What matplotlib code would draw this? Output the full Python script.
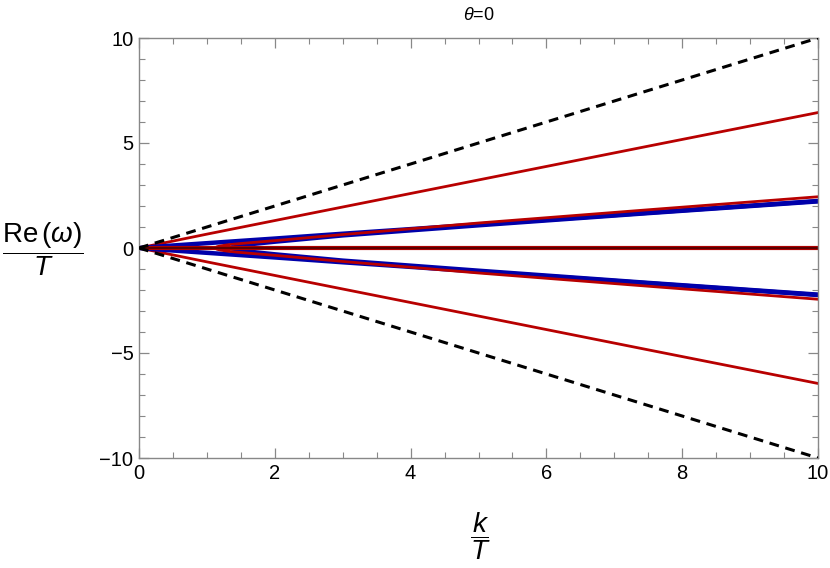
import numpy as np
import matplotlib
matplotlib.use("Agg")
import matplotlib.pyplot as plt
from matplotlib.ticker import MultipleLocator

plt.rcParams["font.family"] = ["Liberation Sans", "DejaVu Sans"]
plt.rcParams["mathtext.fontset"] = "custom"
plt.rcParams["mathtext.rm"] = "Liberation Sans"
plt.rcParams["mathtext.it"] = "Liberation Sans:italic"

#####################
### Data
#####################
k_light = [0.0, 10.0]
w_light = [0.0, 10.0]

k_outer = [0.0, 1.0, 2.5, 5.0, 7.5, 10.0]
w_outer = [0.0, 0.66, 1.63, 3.24, 4.85, 6.45]

k_inner_red = [1.12, 1.15, 1.2, 1.3, 1.45, 1.7, 2.0, 3.0, 5.0, 7.5, 10.0]
w_inner_red = [0.0, 0.06, 0.10, 0.15, 0.20, 0.27, 0.35, 0.64, 1.19, 1.82, 2.44]

k_blue = [0.0, 0.5, 1.0, 2.0, 3.0, 5.0, 7.5, 10.0]
w_blue = [0.0, 0.12, 0.23, 0.45, 0.68, 1.12, 1.68, 2.24]

k_blue_cusp = [1.38, 1.41, 1.46, 1.55, 1.7, 2.0, 3.0, 5.0, 7.5, 10.0]
w_blue_cusp = [0.0, 0.05, 0.09, 0.14, 0.20, 0.30, 0.60, 1.08, 1.66, 2.22]

k_zero = [0.0, 10.0]
w_zero = [0.0, 0.0]

red = "#b80000"
blue = "#0000aa"
frame = "#888888"

#####################
### Plot
#####################
fig = plt.figure(figsize=(8.3, 5.68), dpi=100)
ax = fig.add_axes([139/830, 1-458/568, (818-139)/830, (458-38)/568])

ax.plot(k_light, w_light, color="black", lw=2.2, ls=(0, (3.2, 2.2)), zorder=3)
ax.plot(k_light, -np.array(w_light), color="black", lw=2.2, ls=(0, (3.2, 2.2)), zorder=3)

for s in (1, -1):
    ax.plot(k_outer, s*np.array(w_outer), color=red, lw=2.0)
    ax.plot(k_blue, s*np.array(w_blue), color=blue, lw=3.2)
    ax.plot(k_blue_cusp, s*np.array(w_blue_cusp), color=blue, lw=3.2)
    ax.plot(k_inner_red, s*np.array(w_inner_red), color=red, lw=2.0)
ax.plot(k_zero, w_zero, color=red, lw=3.0)
ax.plot(k_zero, w_zero, color="#5a0000", lw=1.6)

ax.set_xlim(0, 10)
ax.set_ylim(-10, 10)
ax.xaxis.set_major_locator(MultipleLocator(2))
ax.xaxis.set_minor_locator(MultipleLocator(0.5))
ax.yaxis.set_minor_locator(MultipleLocator(1))
ax.set_yticks([-10, -5, 0, 5, 10])
ax.set_yticklabels(["\u221210", "\u22125", "0", "5", "10"])
ax.tick_params(which="both", direction="in", top=True, right=True, color=frame,
               labelsize=14.5, labelcolor="black", pad=4)
ax.tick_params(which="major", length=7, width=0.9)
ax.tick_params(which="minor", length=4, width=0.8)
for sp in ax.spines.values():
    sp.set_color(frame)
    sp.set_linewidth(1.0)

fig.text(479/830, 1-16/568, r"$\theta$=0", ha="center", va="center", fontsize=13)
fig.text(480/830, 1-536/568, r"$\dfrac{k}{T}$", ha="center", va="center", fontsize=20)
fig.text(43/830, 1-249/568, r"$\dfrac{\mathrm{Re}\,(\omega)}{T}$", ha="center", va="center", fontsize=20)

plt.savefig("out.png", dpi=100)
